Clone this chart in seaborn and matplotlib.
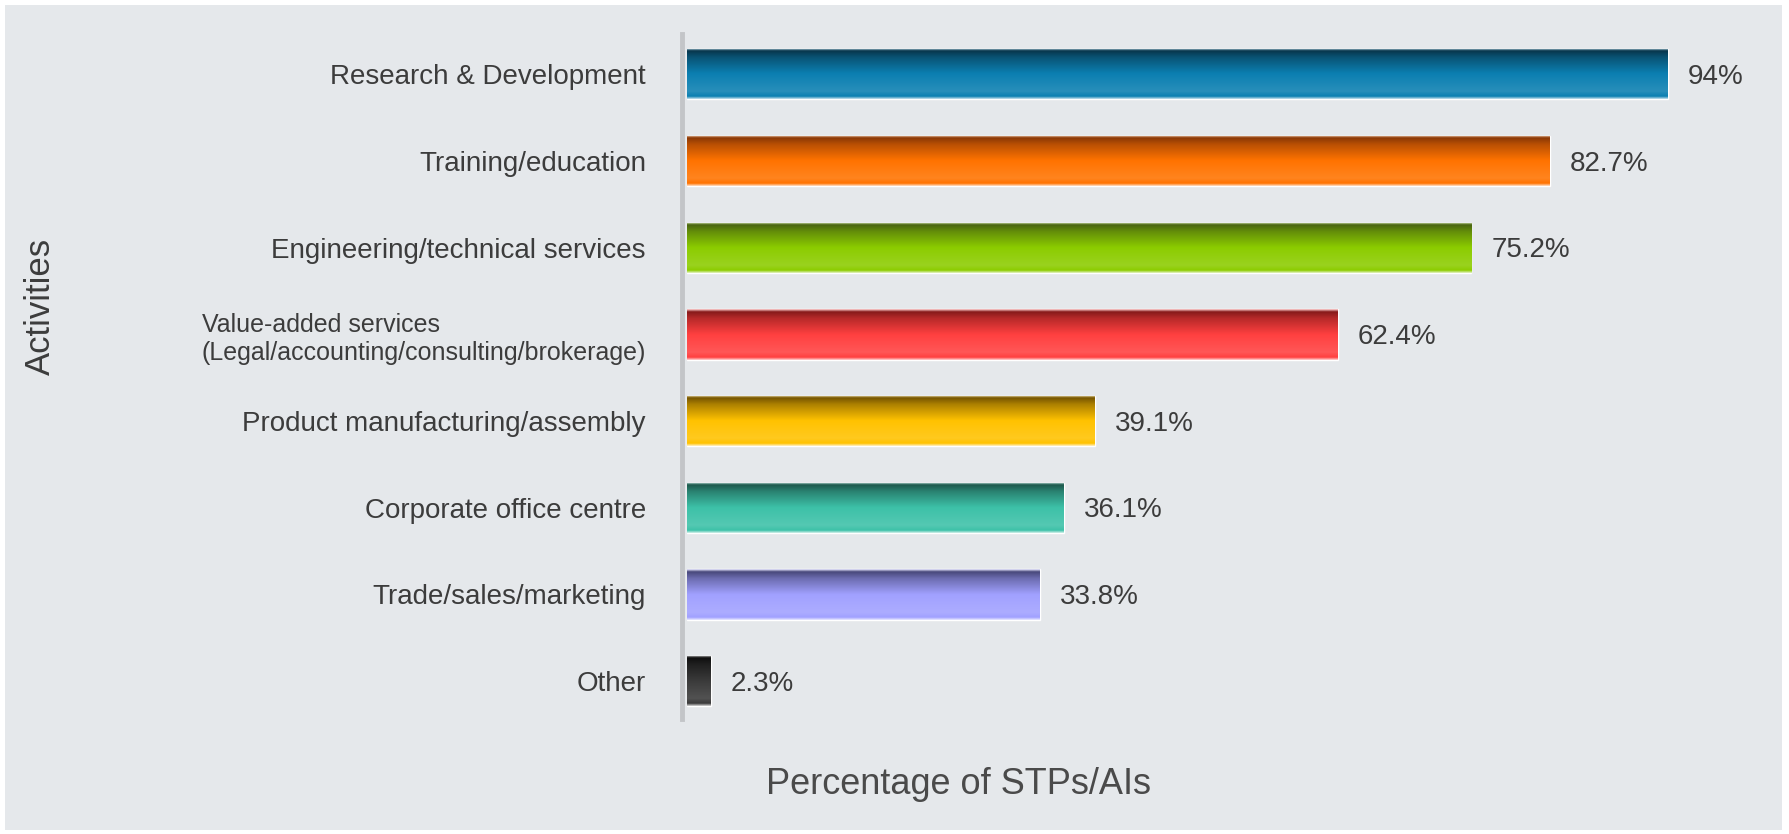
import numpy as np
import pandas as pd
import matplotlib
matplotlib.use("Agg")
import matplotlib.pyplot as plt
from matplotlib.colors import LinearSegmentedColormap, to_rgb
from matplotlib.patches import Rectangle
import seaborn as sns

# data
activities = [
    "Research & Development",
    "Training/education",
    "Engineering/technical services",
    "Value-added services\n(Legal/accounting/consulting/brokerage)",
    "Product manufacturing/assembly",
    "Corporate office centre",
    "Trade/sales/marketing",
    "Other",
]
percent = [94.0, 82.7, 75.2, 62.4, 39.1, 36.1, 33.8, 2.3]
value_labels = ["94%", "82.7%", "75.2%", "62.4%", "39.1%", "36.1%", "33.8%", "2.3%"]

# base colour / dark top shade for each bar
base_colors = ["#0b7fb1", "#ff7300", "#8ccc00", "#ff4040", "#ffc200", "#3dc1a8", "#a1a1ff", "#3a3a3a"]
dark_colors = ["#08364c", "#8a3806", "#486310", "#861a1a", "#765500", "#1d584c", "#48487a", "#0e0e0e"]

bg = "#e5e8eb"
text_col = "#3c3c3c"

df = pd.DataFrame({"activity": activities, "pct": percent})

sns.set_theme(style="white")
plt.rcParams["font.family"] = ["Liberation Sans", "DejaVu Sans"]

fig = plt.figure(figsize=(17.89, 8.34), dpi=100, facecolor="white")
# grey panel with thin white frame
fig.patches.append(Rectangle((5 / 1789, 4 / 834), 1777 / 1789, 825 / 834,
                             transform=fig.transFigure, facecolor=bg, edgecolor="none", zorder=-10))

ax = fig.add_axes([682 / 1789, 1 - 719 / 834, 1069 / 1789, 685 / 834])
ax.set_facecolor("none")

sns.barplot(data=df, x="pct", y="activity", hue="activity", palette=base_colors,
            legend=False, orient="h", width=0.58, ax=ax, saturation=1)

# vertical shading on each bar
for patch, base, dark in zip(ax.patches, base_colors, dark_colors):
    b = np.array(to_rgb(base))
    d = np.array(to_rgb(dark))
    halo = b + (1 - b) * 0.75
    light = b + (1 - b) * 0.12
    cmap = LinearSegmentedColormap.from_list(
        "g", [(0.0, halo), (0.05, d), (0.18, d * 0.6 + b * 0.4), (0.5, b),
              (0.85, light), (0.95, b), (1.0, halo)])
    x0, y0 = patch.get_x(), patch.get_y()
    w, h = patch.get_width(), patch.get_height()
    grad = np.linspace(0, 1, 200).reshape(-1, 1)
    im = ax.imshow(grad, cmap=cmap, aspect="auto", origin="upper",
                   extent=(x0, x0 + w, y0 + h, y0), zorder=3)
    im.set_clip_path(patch)

for i, (v, lab) in enumerate(zip(percent, value_labels)):
    ax.text(v + 1.9, i + 0.03, lab, va="center", ha="left", fontsize=20, color=text_col)

ax.set_xlim(-0.48, 102)
ax.set_ylim(7.436, -0.464)
ax.set_xticks([])
ax.set_xlabel("")
ax.set_ylabel("")
ax.tick_params(axis="y", length=0, pad=26, labelsize=20, labelcolor=text_col)
for t in ax.get_yticklabels():
    t.set_multialignment("left")
    if "\n" in t.get_text():
        t.set_fontsize(18)

for s in ["top", "right", "bottom"]:
    ax.spines[s].set_visible(False)
ax.spines["left"].set_color("#c3c5c8")
ax.spines["left"].set_linewidth(3.5)

fig.text(40 / 1789, 1 - 306 / 834, "Activities", rotation=90, ha="center", va="center",
         fontsize=25, color=text_col)
fig.text(958 / 1789, 1 - 785 / 834, "Percentage of STPs/AIs", ha="center", va="center",
         fontsize=26, color="#4a4a4a")

fig.savefig("out.png", dpi=100, facecolor=fig.get_facecolor())
